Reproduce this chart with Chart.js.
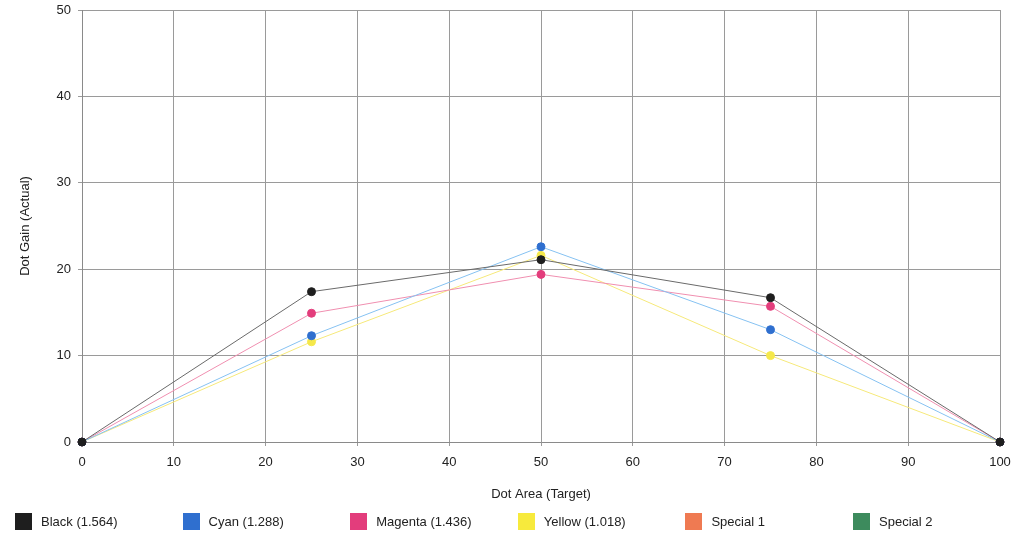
<!DOCTYPE html>
<html>
<head>
<meta charset="utf-8">
<script src="https://cdn.jsdelivr.net/npm/chart.js@4/dist/chart.umd.min.js"></script>
<style>
	body { margin: 0; background: #fff; }
	#wrap { position: relative; width: 1018px; height: 533px; }
	#legend { position: absolute; left: 0; top: 512px; width: 1018px; height: 20px; font-family: "Liberation Sans", Arial, sans-serif; font-size: 13px; color: #222; }
	.item { position: absolute; top: 0; height: 20px; line-height: 20px; }
	.box { position: absolute; left: 0; top: 1px; width: 17px; height: 17px; }
	.lbl { position: absolute; left: 26px; top: 0; white-space: nowrap; }
</style>
</head>
<body>
<div id="wrap">
	<canvas id="chart1" width="1018" height="533"></canvas>
	<div id="legend"></div>
</div>
<script>
// dot area targets and measured dot gain per ink
var xValues = [0, 25, 50, 75, 100];
var black = [0, 17.4, 21.1, 16.7, 0];
var cyan = [0, 12.3, 22.6, 13.0, 0];
var magenta = [0, 14.9, 19.4, 15.7, 0];
var yellow = [0, 11.6, 21.6, 10.0, 0];
var special1 = [];
var special2 = [];
var seriesNames = ['Black (1.564)', 'Cyan (1.288)', 'Magenta (1.436)', 'Yellow (1.018)', 'Special 1', 'Special 2'];

function pts(arr){
	var out = [];
	for(var i = 0; i < arr.length; i++){
		out.push({x: xValues[i], y: arr[i]});
	}
	return out;
}

var swatches = ['#1e1e1e', '#2f6fcf', '#e33d7c', '#f7ea3c', '#ef7a52', '#3d8b5d'];
var lineColors = ['#6a6a6a', '#86c2f2', '#f08fb0', '#f6e97a', '#ef7a52', '#3d8b5d'];
var pointColors = ['#1e1e1e', '#2f6fcf', '#e33d7c', '#f5e84a', '#ef7a52', '#3d8b5d'];
var allData = [black, cyan, magenta, yellow, special1, special2];

var datasets = [];
for(var i = 0; i < allData.length; i++){
	datasets.push({
		label: seriesNames[i],
		data: pts(allData[i]),
		borderColor: lineColors[i],
		backgroundColor: pointColors[i],
		pointBackgroundColor: pointColors[i],
		pointBorderColor: pointColors[i],
		borderWidth: 1,
		pointRadius: 4,
		tension: 0,
		clip: false,
		order: i == 0 ? 0 : 1
	});
}

var font = {family: '"Liberation Sans", Arial, sans-serif', size: 13};

var ctx = document.getElementById('chart1').getContext('2d');
var myChart = new Chart(ctx, {
	type: 'scatter',
	data: { datasets: datasets },
	options: {
		responsive: false,
		animation: false,
		showLine: true,
		layout: { padding: {top: 10, right: 18, bottom: 31, left: 0} },
		plugins: { legend: {display: false}, tooltip: {enabled: false} },
		scales: {
			x: {
				type: 'linear', min: 0, max: 100,
				ticks: { stepSize: 10, color: '#222', font: font, padding: 9 },
				grid: { color: '#9a9a9a', lineWidth: 1, tickLength: 4 },
				border: { color: '#8a8a8a' },
				title: { display: true, text: 'Dot Area (Target)', color: '#222', font: font, padding: {top: 18, bottom: 0} },
				afterFit: function(s){ s.height = 60; s.paddingLeft = 0; s.paddingRight = 0; }
			},
			y: {
				min: 0, max: 50,
				ticks: { stepSize: 10, color: '#222', font: font, padding: 7 },
				grid: { color: '#9a9a9a', lineWidth: 1, tickLength: 4 },
				border: { color: '#8a8a8a' },
				title: { display: true, text: 'Dot Gain (Actual)', color: '#222', font: font, padding: {top: 18, bottom: 0} },
				afterFit: function(s){ s.width = 82; s.paddingTop = 0; s.paddingBottom = 0; }
			}
		}
	}
});

var legend = document.getElementById('legend');
for(var i = 0; i < seriesNames.length; i++){
	var item = document.createElement('div');
	item.className = 'item';
	item.style.left = (15 + i * 167.6) + 'px';
	item.innerHTML = '<span class="box" style="background:' + swatches[i] + '"></span><span class="lbl">' + seriesNames[i] + '</span>';
	legend.appendChild(item);
}
</script>
</body>
</html>
